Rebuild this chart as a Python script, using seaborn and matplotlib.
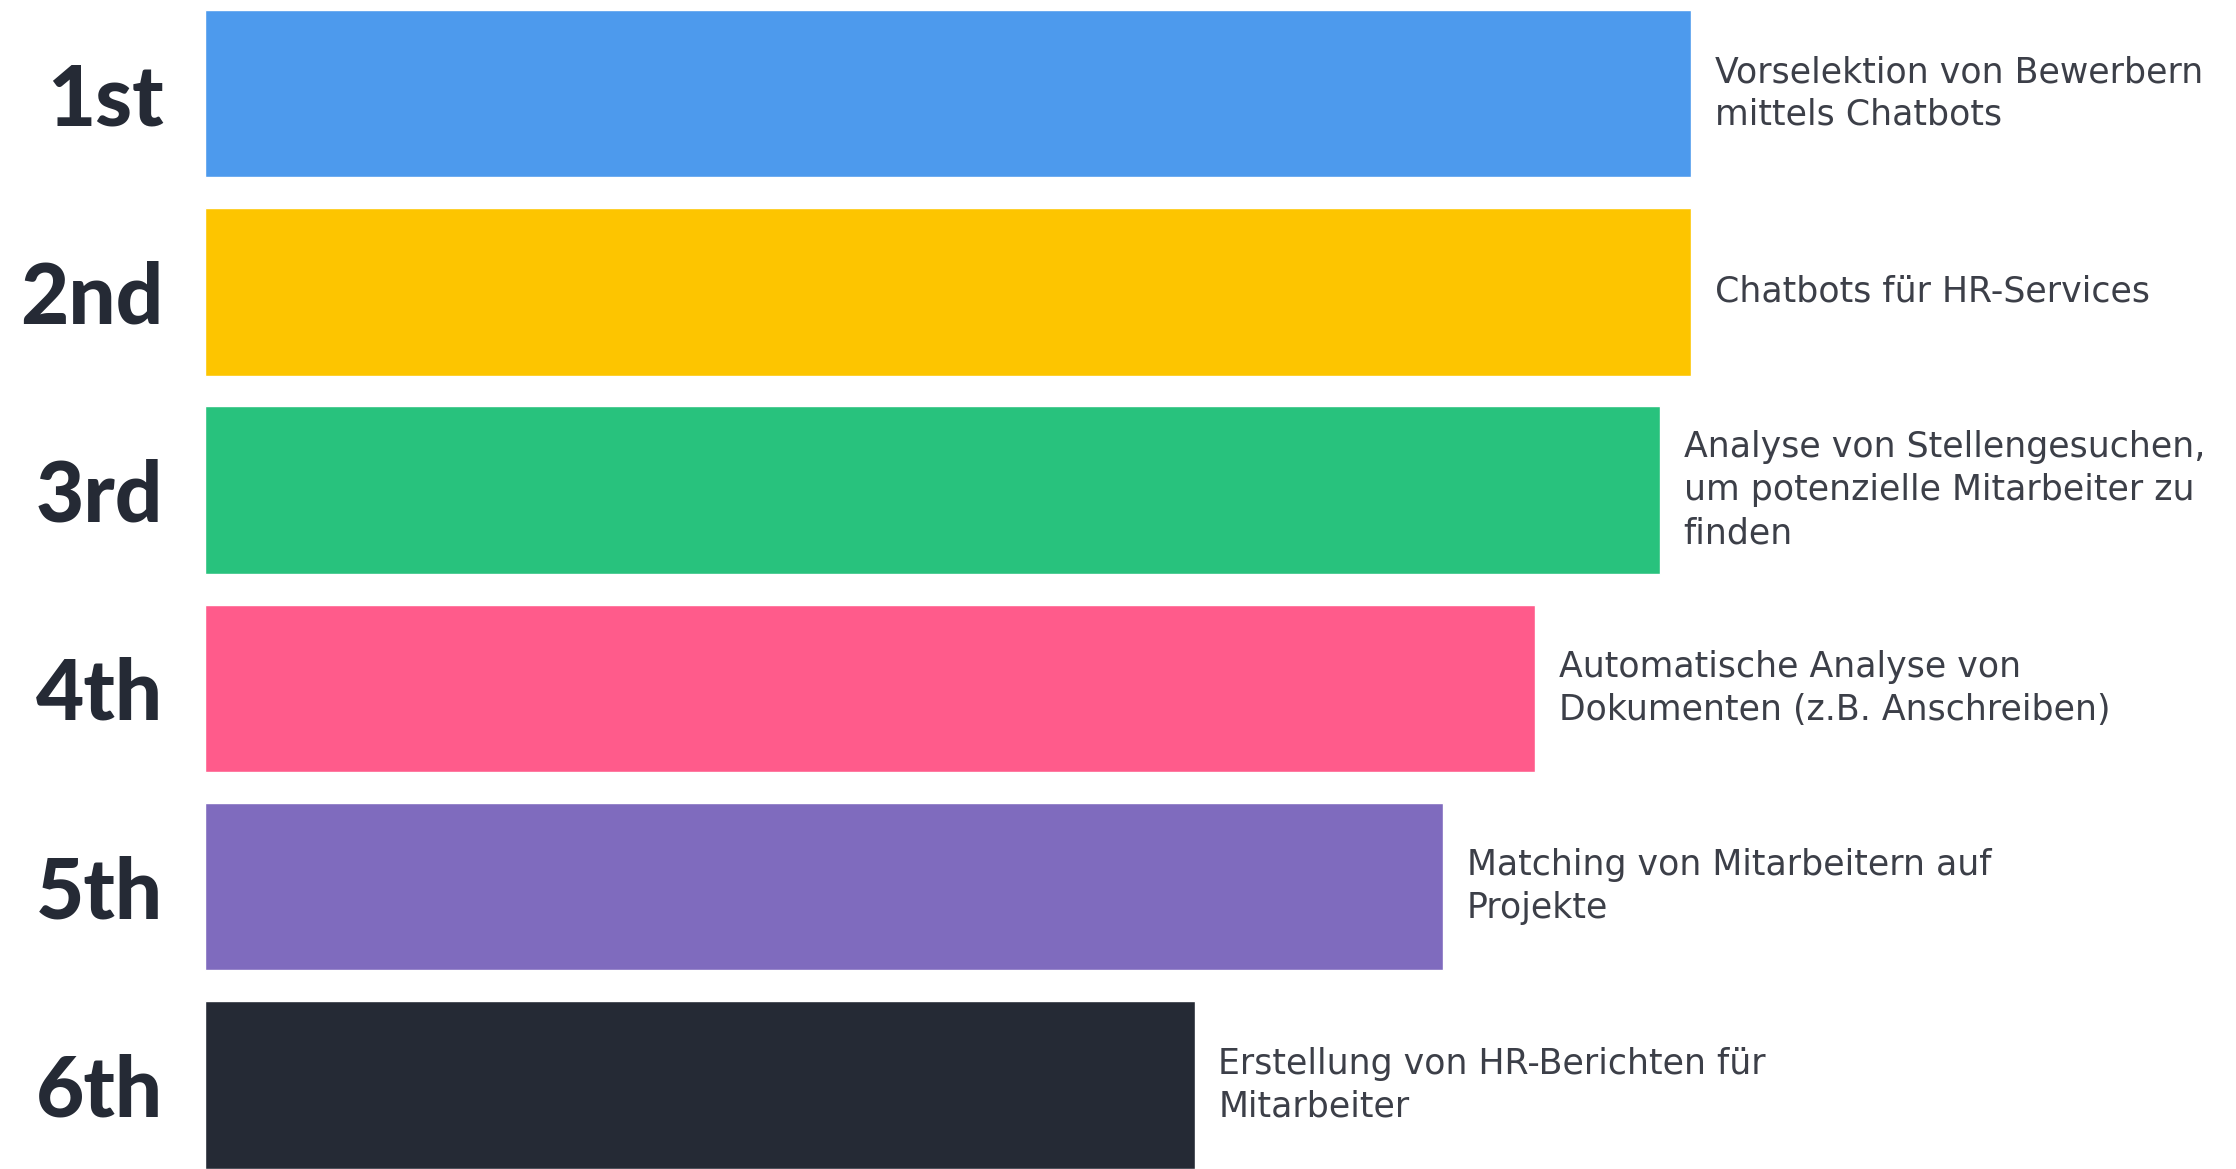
import matplotlib
matplotlib.use("Agg")
import matplotlib.pyplot as plt
import seaborn as sns
import pandas as pd

ranks = ["1st", "2nd", "3rd", "4th", "5th", "6th"]
values = [100, 100, 97.9, 89.5, 83.3, 66.6]
labels = [
    "Vorselektion von Bewerbern\nmittels Chatbots",
    "Chatbots für HR-Services",
    "Analyse von Stellengesuchen,\num potenzielle Mitarbeiter zu\nfinden",
    "Automatische Analyse von\nDokumenten (z.B. Anschreiben)",
    "Matching von Mitarbeitern auf\nProjekte",
    "Erstellung von HR-Berichten für\nMitarbeiter",
]
colors = ["#4d9aed", "#fdc500", "#28c27d", "#ff5b8b", "#7f6bbe", "#252a35"]

df = pd.DataFrame({"rank": ranks, "value": values, "label": labels})

sns.set_style("white")
plt.rcParams["font.family"] = ["Lato", "DejaVu Sans"]

W, H = 2236, 1169
fig = plt.figure(figsize=(W / 100, H / 100), dpi=100)
left = 205 / W
ax = fig.add_axes([left, 0, 1 - left, 1])

sns.barplot(data=df, y="rank", x="value", hue="rank", palette=colors,
            orient="h", width=0.845, legend=False, ax=ax, saturation=1)

ax.set_xlim(0, 100 * (W - 205) / 1486)
ax.set_ylim(5 + (1169 - 1085) / 198.3, -93.5 / 198.3)
ax.set_xlabel("")
ax.set_ylabel("")
ax.set_xticks([])
sns.despine(ax=ax, left=True, bottom=True)
ax.tick_params(axis="y", length=0, pad=30)
for t in ax.get_yticklabels():
    t.set_fontsize(60)
    t.set_fontweight("black")
    t.set_color("#252a35")

for i, (v, lab) in enumerate(zip(values, labels)):
    ax.text(v + 1.6, i, lab, ha="left", va="center", fontsize=25,
            family="DejaVu Sans", color="#3c3f48", linespacing=1.33,
            clip_on=False)

fig.savefig("out.png", dpi=100)
